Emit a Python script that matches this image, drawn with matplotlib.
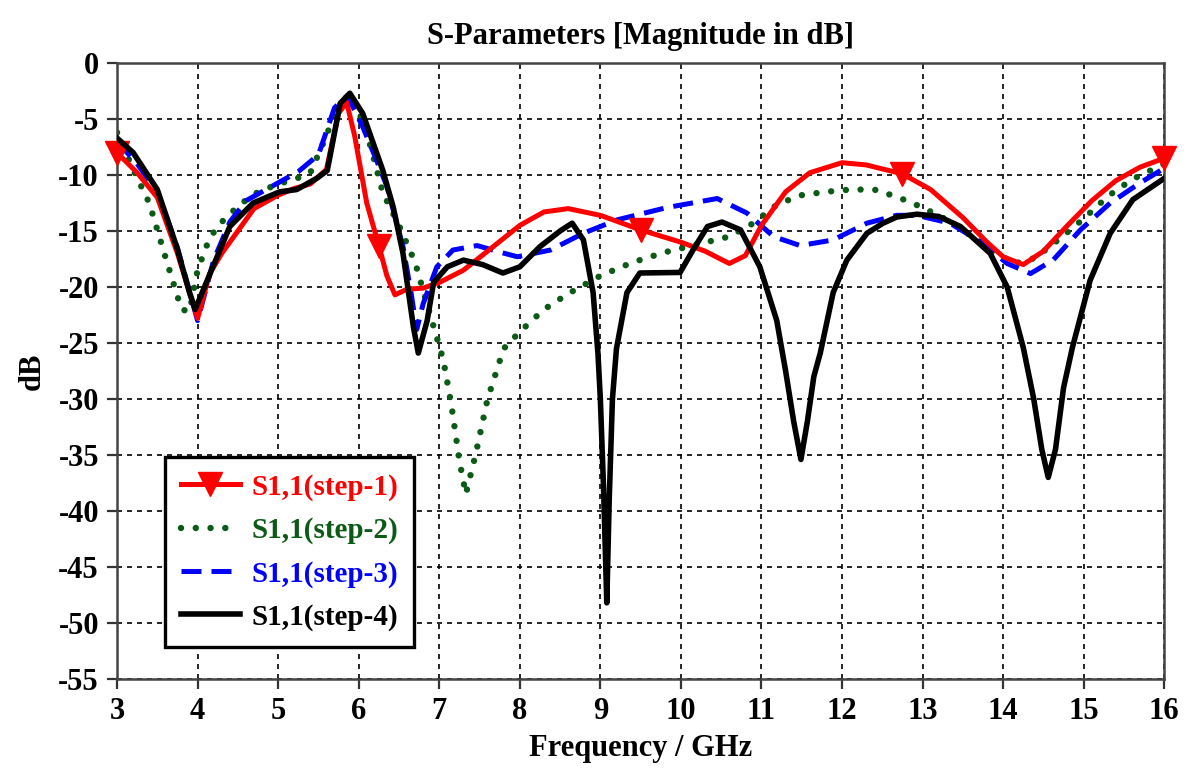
import numpy as np
import matplotlib
matplotlib.use("Agg")
import matplotlib.pyplot as plt
from matplotlib.lines import Line2D

# ---- data ----
freq_step1 = [3.0, 3.25, 3.5, 3.75, 4.0, 4.15, 4.3, 4.5, 4.7, 5.0, 5.2, 5.4, 5.6, 5.75, 5.85,
              5.95, 6.1, 6.25, 6.35, 6.45, 6.6, 6.8, 7.0, 7.3, 7.6, 8.0, 8.3, 8.6, 9.0, 9.5,
              10.0, 10.3, 10.6, 10.8, 11.0, 11.3, 11.6, 12.0, 12.3, 12.75, 13.1, 13.5, 13.8,
              14.0, 14.25, 14.5, 14.8, 15.1, 15.4, 15.7, 16.0]
s11_step1 = [-8.0, -9.8, -12.0, -17.0, -22.8, -18.8, -17.0, -15.0, -13.0, -11.8, -11.2, -10.8,
             -9.5, -4.5, -3.5, -6.5, -12.5, -16.3, -19.0, -20.7, -20.2, -20.1, -19.6, -18.5,
             -16.8, -14.5, -13.3, -13.0, -13.6, -14.9, -16.0, -16.8, -17.9, -17.2, -14.5,
             -11.5, -9.8, -8.9, -9.1, -9.9, -11.3, -13.8, -16.0, -17.3, -18.0, -16.8, -14.5,
             -12.3, -10.5, -9.3, -8.5]
marker_freqs_step1 = [3.0, 6.25, 9.5, 12.75, 16.0]

freq_step2 = [3.0, 3.2, 3.4, 3.6, 3.8, 3.9, 4.0, 4.15, 4.3, 4.5, 4.7, 5.0, 5.2, 5.4, 5.6, 5.7,
              5.8, 5.9, 6.0, 6.15, 6.3, 6.5, 6.7, 6.9, 7.05, 7.15, 7.25, 7.33, 7.45, 7.6, 7.8,
              8.0, 8.3, 8.6, 9.0, 9.4, 9.8, 10.2, 10.6, 10.9, 11.2, 11.5, 11.8, 12.1, 12.4,
              12.7, 13.0, 13.3, 13.6, 13.9, 14.15, 14.4, 14.7, 15.0, 15.3, 15.6, 16.0]
s11_step2 = [-6.2, -9.5, -12.5, -17.3, -22.0, -22.2, -18.5, -15.6, -14.2, -12.8, -11.7, -10.8,
             -10.4, -9.8, -6.5, -4.5, -3.5, -3.4, -4.3, -7.5, -11.6, -14.5, -17.8, -22.8,
             -26.5, -30.5, -35.5, -38.5, -35.0, -30.0, -25.5, -24.0, -22.0, -20.6, -19.0,
             -17.8, -16.9, -16.2, -15.5, -14.3, -12.6, -11.8, -11.5, -11.3, -11.3, -12.0,
             -12.9, -14.0, -15.4, -17.0, -17.9, -17.4, -15.7, -13.9, -11.9, -10.4, -9.0]

freq_step3 = [3.0, 3.25, 3.5, 3.75, 4.0, 4.2, 4.4, 4.6, 5.0, 5.25, 5.5, 5.7, 5.86, 6.05, 6.2,
              6.35, 6.55, 6.65, 6.72, 6.8, 6.97, 7.17, 7.47, 7.76, 7.97, 8.38, 8.79, 9.21,
              9.83, 10.45, 10.82, 11.15, 11.48, 11.89, 12.31, 12.68, 12.93, 13.34, 13.75,
              14.05, 14.34, 14.62, 14.96, 15.33, 15.7, 16.0]
s11_step3 = [-7.0, -9.0, -11.5, -16.5, -23.0, -17.6, -14.2, -12.3, -10.7, -9.7, -8.2, -4.0,
             -2.9, -5.7, -8.3, -11.0, -16.4, -20.5, -23.8, -21.5, -18.2, -16.7, -16.3, -16.9,
             -17.3, -16.7, -15.2, -14.0, -12.9, -12.1, -13.4, -15.5, -16.3, -15.8, -14.3,
             -13.6, -13.6, -14.3, -16.1, -17.9, -18.8, -17.6, -14.9, -12.5, -10.7, -9.4]

freq_step4 = [3.0, 3.2, 3.5, 3.74, 3.9, 3.97, 4.19, 4.4, 4.69, 5.02, 5.23, 5.48, 5.61, 5.77,
              5.89, 6.05, 6.3, 6.43, 6.55, 6.68, 6.74, 6.85, 6.93, 7.1, 7.3, 7.54, 7.79, 8.0,
              8.25, 8.5, 8.65, 8.79, 8.91, 8.97, 9.0, 9.04, 9.08, 9.11, 9.15, 9.2, 9.33, 9.49,
              9.99, 10.15, 10.33, 10.51, 10.74, 10.98, 11.19, 11.3, 11.4, 11.49, 11.57, 11.65,
              11.73, 11.89, 12.06, 12.31, 12.51, 12.68, 12.93, 13.2, 13.47, 13.84, 14.05,
              14.25, 14.38, 14.48, 14.56, 14.65, 14.75, 14.86, 15.08, 15.33, 15.61, 16.0]
s11_step4 = [-6.7, -8.0, -11.3, -16.4, -20.5, -22.0, -18.2, -14.6, -12.5, -11.5, -11.3, -10.3,
             -9.6, -3.6, -2.7, -4.5, -9.6, -12.9, -17.0, -23.6, -25.9, -23.0, -19.6, -18.2,
             -17.6, -18.0, -18.75, -18.2, -16.4, -15.0, -14.3, -15.8, -20.5, -25.9, -30.0,
             -38.0, -48.2, -39.0, -30.0, -25.5, -20.5, -18.75, -18.7, -16.7, -14.6, -14.2,
             -14.9, -18.2, -23.0, -27.5, -32.0, -35.4, -32.0, -28.0, -25.9, -20.5, -17.6,
             -15.2, -14.3, -13.75, -13.5, -13.7, -14.6, -17.0, -20.0, -25.4, -30.0, -34.5,
             -37.0, -34.5, -29.0, -25.4, -19.4, -15.2, -12.2, -10.3]

labels = ["S1,1(step-1)", "S1,1(step-2)", "S1,1(step-3)", "S1,1(step-4)"]
colors = ["#FF0000", "#0B5A16", "#0000FF", "#000000"]

x_ticks = list(range(3, 17))
y_ticks = list(range(0, -56, -5))

plt.rcParams['font.family'] = ['Liberation Serif', 'DejaVu Serif']
plt.rcParams['font.weight'] = 'bold'
plt.rcParams['axes.unicode_minus'] = False

fig = plt.figure(figsize=(11.88, 7.73), dpi=100)
ax = fig.add_axes([0.0985, 0.1216, 0.8815, 0.7969])

# marker indices for step-1
mk_idx = [i for i, f in enumerate(freq_step1) if f in marker_freqs_step1]

green_ls = (0, (0.01, 2.3))
blue_ls = (0, (4.0, 2.0))

ax.plot(freq_step2, s11_step2, color=colors[1], lw=4.6, linestyle=green_ls,
        dash_capstyle='round', zorder=2, label=labels[1])
ax.plot(freq_step3, s11_step3, color=colors[2], lw=3.6, linestyle=blue_ls,
        dash_capstyle='butt', zorder=3, label=labels[2])
ax.plot(freq_step1, s11_step1, color=colors[0], lw=3.6, marker='v', markersize=17,
        markevery=mk_idx, zorder=4, clip_on=False, label=labels[0])
ax.plot(freq_step4, s11_step4, color=colors[3], lw=4.0, zorder=5, label=labels[3])

ax.set_xlim(3, 16)
ax.set_ylim(-55, 0)
ax.set_xticks(x_ticks)
ax.set_yticks(y_ticks)
ax.tick_params(direction='out', length=7, width=1.6, color='#333333', labelsize=22, pad=6)
for lab in ax.get_xticklabels() + ax.get_yticklabels():
    lab.set_fontweight('bold')

ax.grid(True, color='black', linestyle=(0, (3, 3)), linewidth=1.2)
ax.set_axisbelow(True)
for sp in ax.spines.values():
    sp.set_color('#444444')
    sp.set_linewidth(1.8)

ax.set_title('S-Parameters [Magnitude in dB]', fontsize=22, fontweight='bold', pad=14)
ax.set_xlabel('Frequency / GHz', fontsize=22, fontweight='bold', labelpad=6)
ax.set_ylabel('dB', fontsize=22, fontweight='bold', labelpad=8)

# legend in reference order
handles = [
    Line2D([], [], color=colors[0], lw=3.6, marker='v', markersize=17),
    Line2D([], [], color=colors[1], lw=4.6, linestyle=green_ls, dash_capstyle='round'),
    Line2D([], [], color=colors[2], lw=3.6, linestyle=blue_ls),
    Line2D([], [], color=colors[3], lw=4.0),
]
leg = ax.legend(handles, labels, loc='lower left', bbox_to_anchor=(0.046, 0.052),
                borderaxespad=0, fancybox=False, framealpha=1, edgecolor='black',
                prop={'size': 21, 'weight': 'bold'}, handlelength=2.0,
                labelspacing=0.55, handletextpad=0.4, borderpad=0.55)
leg.get_frame().set_linewidth(2.4)
for txt, c in zip(leg.get_texts(), colors):
    txt.set_color(c)
leg.set_zorder(10)

fig.savefig('out.png', dpi=100)
